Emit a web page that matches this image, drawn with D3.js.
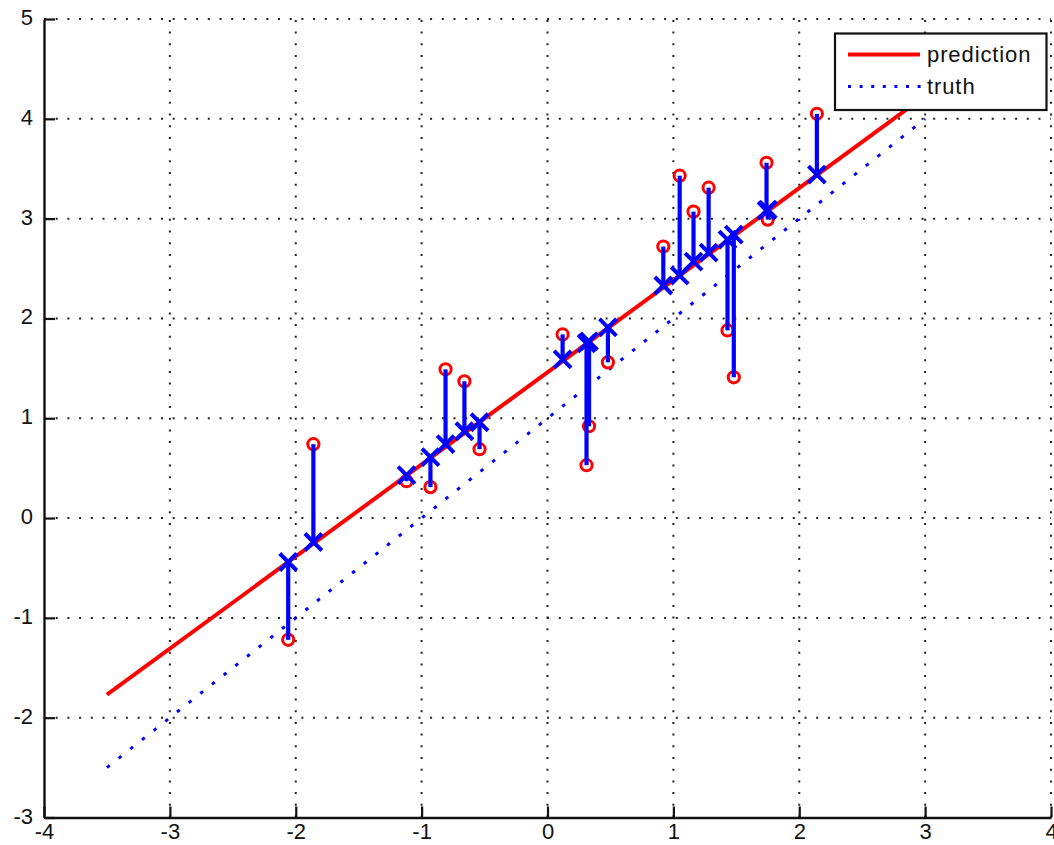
<!DOCTYPE html>
<html>
<head>
<meta charset="utf-8">
<script src="https://cdn.jsdelivr.net/npm/d3@7"></script>
<style>
  html, body { margin: 0; padding: 0; background: #fff; }
  svg { display: block; }
  text { font-family: "Liberation Sans", Arial, Helvetica, sans-serif; fill: #111; }
</style>
</head>
<body>
<svg id="chart" width="1054" height="845"></svg>
<script>
// Sample inputs and observed / predicted outputs
const sampleX   = [-2.06, -1.86, -1.12, -0.93, -0.81, -0.66, -0.54, 0.12, 0.31, 0.33,
                   0.48, 0.92, 1.05, 1.16, 1.28, 1.43, 1.48, 1.74, 1.75, 2.14];
const observedY = [-1.22, 0.74, 0.37, 0.31, 1.49, 1.37, 0.69, 1.84, 0.53, 0.92,
                   1.56, 2.72, 3.43, 3.07, 3.31, 1.88, 1.41, 3.56, 2.99, 4.05];
const predictedY = [-0.44, -0.24, 0.43, 0.61, 0.74, 0.87, 0.96, 1.59, 1.75, 1.77,
                    1.91, 2.33, 2.43, 2.57, 2.66, 2.79, 2.84, 3.08, 3.09, 3.44];

// Fitted line and true line, end points
const lineX      = [-3.5, 3];
const predLineY  = [-1.77, 4.23];
const truthLineY = [-2.5, 4];

// Axis ticks
const xTicks = [-4, -3, -2, -1, 0, 1, 2, 3, 4];
const yTicks = [-3, -2, -1, 0, 1, 2, 3, 4, 5];

const legendLabels = ["prediction", "truth"];

const svg = d3.select("#chart");
const plotLeft = 44, plotRight = 1051, plotTop = 19, plotBottom = 817.5;

const x = d3.scaleLinear().domain([-4, 4]).range([plotLeft, plotRight]);
const y = d3.scaleLinear().domain([-3, 5]).range([plotBottom, plotTop]);

// Dotted grid
const grid = svg.append("g")
  .attr("stroke", "#222").attr("stroke-width", 2).attr("stroke-dasharray", "2,9.7");
grid.selectAll("line.v").data(xTicks.slice(1)).join("line").attr("class", "v")
  .attr("x1", d => x(d)).attr("x2", d => x(d))
  .attr("y1", plotBottom).attr("y2", plotTop);
grid.selectAll("line.h").data(yTicks.slice(1)).join("line").attr("class", "h")
  .attr("x1", plotLeft).attr("x2", plotRight)
  .attr("y1", d => y(d)).attr("y2", d => y(d));

// Axes (ticks point inward, plain hyphen for negatives)
const fmt = d => String(d);
const xAxis = svg.append("g").attr("transform", `translate(0,${plotBottom})`)
  .call(d3.axisBottom(x).tickValues(xTicks).tickFormat(fmt)
    .tickSize(-11).tickPadding(6).tickSizeOuter(0));
const yAxis = svg.append("g").attr("transform", `translate(${plotLeft},0)`)
  .call(d3.axisLeft(y).tickValues(yTicks).tickFormat(fmt)
    .tickSize(-11).tickPadding(11).tickSizeOuter(0));
[xAxis, yAxis].forEach(g => {
  g.select(".domain").attr("stroke", "#111").attr("stroke-width", 2.4);
  g.selectAll(".tick line").attr("stroke", "#111").attr("stroke-width", 2.2);
  g.selectAll(".tick text").attr("font-size", 22).attr("fill", "#111")
    .attr("font-family", "'Liberation Sans', Arial, sans-serif");
});
xAxis.selectAll(".tick text").attr("dy", "0.71em");
yAxis.selectAll(".tick text").attr("dy", "0.25em");

// Fitted and true lines
const line = d3.line().x(d => x(d[0])).y(d => y(d[1]));
svg.append("path")
  .datum(lineX.map((v, i) => [v, predLineY[i]]))
  .attr("d", line).attr("fill", "none")
  .attr("stroke", "#ff0000").attr("stroke-width", 4);
svg.append("path")
  .datum(lineX.map((v, i) => [v, truthLineY[i]]))
  .attr("d", line).attr("fill", "none")
  .attr("stroke", "#0000ff").attr("stroke-width", 3)
  .attr("stroke-dasharray", "3.5,11.4");

// Observed samples
svg.append("g").selectAll("circle").data(sampleX).join("circle")
  .attr("cx", d => x(d)).attr("cy", (d, i) => y(observedY[i]))
  .attr("r", 5.6).attr("fill", "none")
  .attr("stroke", "#ff0000").attr("stroke-width", 3);

// Residual stems
svg.append("g").selectAll("line").data(sampleX).join("line")
  .attr("x1", d => x(d)).attr("x2", d => x(d))
  .attr("y1", (d, i) => y(observedY[i])).attr("y2", (d, i) => y(predictedY[i]))
  .attr("stroke", "#0000ff").attr("stroke-width", 4.2);

// Predicted values as crosses
const s = 8.5;
svg.append("g").selectAll("path").data(sampleX).join("path")
  .attr("d", (d, i) => {
    const cx = x(d), cy = y(predictedY[i]);
    return `M${cx - s},${cy - s}L${cx + s},${cy + s}M${cx - s},${cy + s}L${cx + s},${cy - s}`;
  })
  .attr("stroke", "#0000ff").attr("stroke-width", 4).attr("fill", "none");

// Legend
const lg = svg.append("g");
lg.append("rect").attr("x", 835).attr("y", 33.5).attr("width", 211.5).attr("height", 76.5)
  .attr("fill", "#fff").attr("stroke", "#111").attr("stroke-width", 2.2);
lg.append("line").attr("x1", 848).attr("x2", 920).attr("y1", 54.5).attr("y2", 54.5)
  .attr("stroke", "#ff0000").attr("stroke-width", 4);
lg.append("line").attr("x1", 848).attr("x2", 922).attr("y1", 86.5).attr("y2", 86.5)
  .attr("stroke", "#0000ff").attr("stroke-width", 3).attr("stroke-dasharray", "3,8.6");
lg.selectAll("text").data(legendLabels).join("text")
  .attr("x", 927).attr("y", (d, i) => 62 + i * 32)
  .attr("font-size", 22).attr("letter-spacing", 0.9).text(d => d);
</script>
</body>
</html>
